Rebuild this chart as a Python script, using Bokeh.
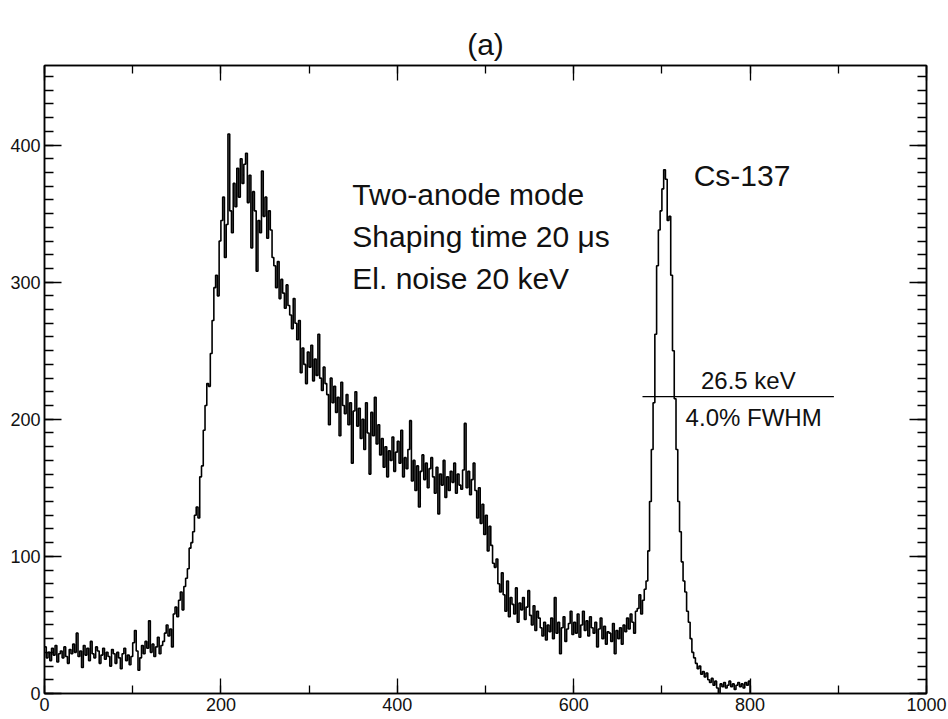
from bokeh.plotting import figure
from bokeh.models import LinearAxis, SingleIntervalTicker, Range1d, Label
from bokeh.embed import file_html
from bokeh.resources import INLINE

# ---- data: spectrum counts, bin width 2 channels, channels 0..800 ----
bin_width = 2
counts_0_200 = [
    34, 26, 30, 24, 33, 28, 35, 23, 29, 31, 26, 34, 27, 22, 32, 29, 36, 30, 44, 27,
    31, 19, 35, 28, 33, 24, 38, 29, 26, 34, 31, 22, 28, 33, 25, 30, 27, 20, 32, 29,
    22, 30, 26, 18, 29, 33, 24, 28, 21, 27, 37, 46, 31, 17, 26, 35, 29, 38, 33, 53,
    30, 36, 27, 34, 41, 29, 35, 38, 44, 50, 42, 47, 34, 58, 63, 56, 68, 74, 61, 78,
    84, 91, 106, 110, 118, 130, 136, 128, 158, 166, 192, 210, 226, 224, 248, 272, 296, 305, 290, 330,
]
counts_200_400 = [
    345, 362, 318, 342, 408, 352, 336, 372, 355, 383, 362, 390, 372, 386, 394, 358, 378, 325, 366, 352,
    308, 345, 336, 381, 348, 362, 332, 352, 338, 318, 312, 296, 315, 288, 302, 292, 281, 298, 283, 276,
    266, 288, 270, 258, 272, 234, 252, 240, 226, 249, 238, 254, 228, 244, 232, 262, 230, 221, 238, 226,
    218, 196, 230, 212, 224, 205, 216, 188, 227, 210, 204, 218, 196, 212, 168, 206, 220, 195, 208, 186,
    200, 178, 212, 190, 160, 205, 188, 216, 182, 196, 174, 186, 165, 180, 158, 177, 170, 187, 162, 176,
]
counts_400_600 = [
    184, 168, 192, 158, 172, 164, 178, 199, 155, 170, 148, 166, 136, 162, 174, 156, 168, 150, 164, 172,
    158, 146, 165, 131, 160, 152, 170, 143, 158, 148, 162, 154, 168, 146, 160, 152, 149, 163, 197, 150,
    162, 145, 156, 168, 148, 128, 150, 124, 138, 116, 130, 104, 122, 108, 95, 92, 98, 80, 74, 88,
    72, 60, 82, 56, 70, 65, 58, 77, 52, 66, 61, 70, 54, 63, 75, 57, 50, 64, 46, 60,
    55, 48, 42, 52, 39, 50, 45, 55, 40, 70, 44, 52, 29, 48, 56, 38, 47, 51, 60, 43,
]
counts_600_800 = [
    52, 44, 58, 41, 50, 60, 46, 53, 42, 56, 48, 44, 52, 34, 47, 55, 40, 49, 36, 45,
    44, 38, 51, 29, 46, 40, 48, 36, 50, 45, 55, 47, 58, 52, 44, 60, 62, 72, 58, 68,
    76, 82, 104, 140, 178, 212, 262, 312, 338, 352, 368, 382, 375, 345, 348, 305, 250, 215, 178, 140,
    118, 96, 82, 74, 60, 52, 40, 30, 26, 22, 18, 20, 14, 16, 12, 15, 10, 8, 11, 6,
    9, 4, 0, 7, 5, 8, 4, 6, 9, 5, 7, 3, 6, 8, 5, 7, 4, 8, 6, 9,
]

# annotations
title_text = "(a)"
info_lines = ["Two-anode mode", "Shaping time 20 \u03bcs", "El. noise 20 keV"]
info_y = [364, 333, 303]
info_x = 349
source_text = "Cs-137"
fwhm_x = [678, 895]
fwhm_level = 216.5
fwhm_kev_text = "26.5 keV"
fwhm_pct_text = "4.0% FWHM"

counts = counts_0_200 + counts_200_400 + counts_400_600 + counts_600_800
edges = [i * bin_width for i in range(len(counts) + 1)]
step_y = counts + [0]

FONT = "Liberation Sans"

p = figure(width=948, height=719,
           x_range=Range1d(0, 1000), y_range=Range1d(0, 458),
           output_backend="svg", toolbar_location=None,
           min_border_left=44, min_border_right=22,
           min_border_top=65, min_border_bottom=26)
p.xgrid.visible = False
p.ygrid.visible = False
p.outline_line_color = "black"
p.outline_line_width = 1.5
p.background_fill_color = "white"
p.border_fill_color = "white"

p.title.text = title_text
p.title.align = "center"
p.title.text_font = FONT
p.title.text_font_size = "30px"
p.title.text_font_style = "normal"
p.title.text_color = "#111111"

x_major_in, x_minor_in = 15, 8
y_major_in, y_minor_in = 17, 9


def style_axis(ax, major_in, minor_in, labels, gap=0):
    ax.axis_line_color = "black"
    ax.axis_line_width = 1.5
    ax.major_tick_in = major_in
    ax.major_tick_out = 0
    ax.minor_tick_in = minor_in
    ax.minor_tick_out = 0
    ax.major_tick_line_color = "black"
    ax.major_tick_line_width = 1.3
    ax.minor_tick_line_color = "black"
    ax.minor_tick_line_width = 1.3
    if labels:
        ax.major_label_text_font = FONT
        ax.major_label_text_font_size = "18px"
        ax.major_label_text_color = "#111111"
        ax.major_label_standoff = 4
    else:
        ax.major_label_text_font_size = "0px"
        ax.major_label_text_color = None
        ax.major_label_text_alpha = 0
        ax.major_label_standoff = gap


p.xaxis[0].ticker = SingleIntervalTicker(interval=200, num_minor_ticks=2)
p.yaxis[0].ticker = SingleIntervalTicker(interval=100, num_minor_ticks=10)
style_axis(p.xaxis[0], x_major_in, x_minor_in, True)
style_axis(p.yaxis[0], y_major_in, y_minor_in, True)

top_axis = LinearAxis(ticker=SingleIntervalTicker(interval=200, num_minor_ticks=2))
style_axis(top_axis, x_major_in, x_minor_in, False, gap=7)
p.add_layout(top_axis, "above")

right_axis = LinearAxis(ticker=SingleIntervalTicker(interval=100, num_minor_ticks=10))
style_axis(right_axis, y_major_in, y_minor_in, False)
p.add_layout(right_axis, "right")

# spectrum
p.step(x=edges, y=step_y, mode="after", line_color="black", line_width=1.6)

# FWHM line
p.line(x=fwhm_x, y=[fwhm_level, fwhm_level], line_color="black", line_width=1.3)

# texts
for t, yy in zip(info_lines, info_y):
    p.add_layout(Label(x=info_x, y=yy, text=t, text_font=FONT, text_font_size="30px",
                       text_align="left", text_baseline="middle", text_color="#111111"))
p.add_layout(Label(x=736, y=377.5, text=source_text, text_font=FONT, text_font_size="30px",
                   text_align="left", text_baseline="middle", text_color="#111111"))
p.add_layout(Label(x=798, y=228, text=fwhm_kev_text, text_font=FONT, text_font_size="24px",
                   text_align="center", text_baseline="middle", text_color="#111111"))
p.add_layout(Label(x=804, y=201, text=fwhm_pct_text, text_font=FONT, text_font_size="24px",
                   text_align="center", text_baseline="middle", text_color="#111111"))

open("out.html", "w").write(file_html(p, INLINE))
